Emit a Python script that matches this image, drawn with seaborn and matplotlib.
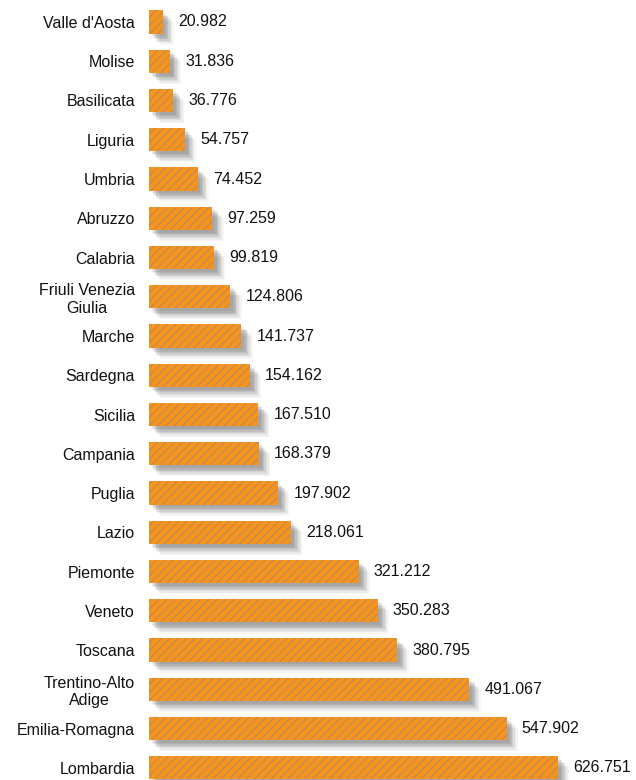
import matplotlib
matplotlib.use("Agg")
import matplotlib.pyplot as plt
import matplotlib.patheffects as pe
import seaborn as sns
import pandas as pd

regions = ["Valle d'Aosta", "Molise", "Basilicata", "Liguria", "Umbria", "Abruzzo",
           "Calabria", "Friuli Venezia\nGiulia", "Marche", "Sardegna", "Sicilia",
           "Campania", "Puglia", "Lazio", "Piemonte", "Veneto", "Toscana",
           "Trentino-Alto\nAdige", "Emilia-Romagna", "Lombardia"]
values = [20.982, 31.836, 36.776, 54.757, 74.452, 97.259, 99.819, 124.806,
          141.737, 154.162, 167.510, 168.379, 197.902, 218.061, 321.212,
          350.283, 380.795, 491.067, 547.902, 626.751]

BAR = "#F7941E"
HATCH = "#b98a58"

sns.set_theme(style="white")
plt.rcParams['font.family'] = ['Liberation Sans', 'DejaVu Sans']
plt.rcParams['hatch.linewidth'] = 0.8

df = pd.DataFrame({"region": regions, "value": values})

fig = plt.figure(figsize=(6.36, 7.8), dpi=100)
ax = fig.add_axes([149 / 636, 0.0, 1 - 149 / 636, 1.0])

sns.barplot(data=df, y="region", x="value", orient="h", color=BAR,
            saturation=1, width=0.59, ax=ax)

shadow = []
for k, a in [(8, 0.05), (7, 0.06), (6, 0.08), (5, 0.1), (4, 0.12), (3, 0.12), (2, 0.1)]:
    shadow.append(pe.SimplePatchShadow(offset=(k, -k), shadow_rgbFace='0.3', alpha=a))
for p in ax.patches:
    p.set_linewidth(0)
    p.set_path_effects(shadow + [pe.Normal()])

# hatched overlay giving the sketchy texture
ax.barh(range(len(values)), values, height=0.59, facecolor="none",
        edgecolor=HATCH, linewidth=0, hatch="////", zorder=3)

ax.bar_label(ax.containers[0], labels=[f"{v:.3f}" for v in values],
             padding=11, fontsize=11.5, color="#111111")

xmax = (636 - 149) / ((558 - 149) / 626.751)
ax.set_xlim(0, xmax)
ax.set_ylim(19.31, -0.56)
ax.set_xlabel("")
ax.set_ylabel("")
ax.set_xticks([])
ax.tick_params(axis="y", length=0, pad=10, labelsize=11.5, labelcolor="#111111")
for lab in ax.get_yticklabels():
    lab.set_multialignment("center")
sns.despine(ax=ax, left=True, bottom=True)

fig.savefig("out.png", dpi=100)
